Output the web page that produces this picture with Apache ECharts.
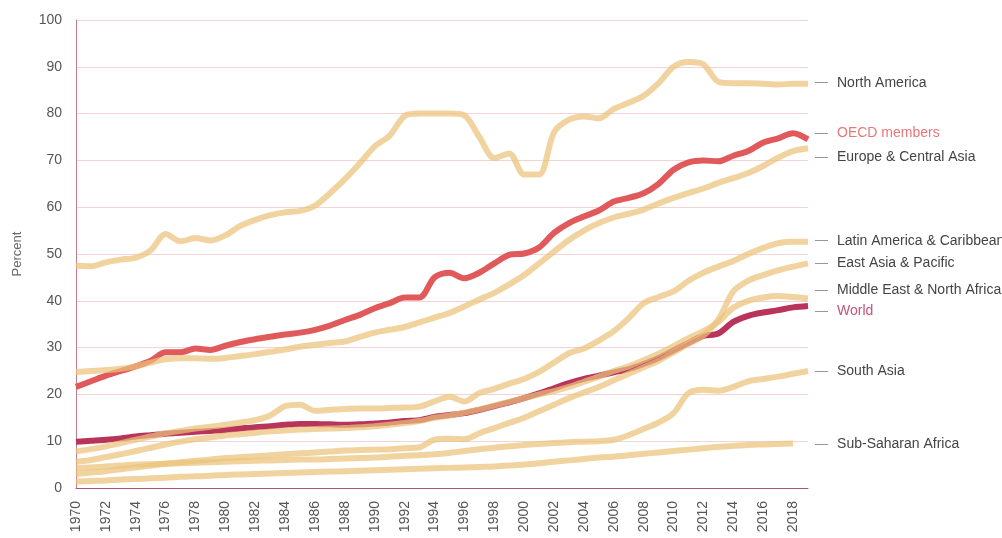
<!DOCTYPE html>
<html>
<head>
<meta charset="utf-8">
<script src="https://cdn.jsdelivr.net/npm/echarts@6/dist/echarts.min.js"></script>
<style>
html,body{margin:0;padding:0;background:#fff;}
#chart{width:1002px;height:538px;}
</style>
</head>
<body>
<div id="chart"></div>
<script>
var years = ["1970","1971","1972","1973","1974","1975","1976","1977","1978","1979",
"1980","1981","1982","1983","1984","1985","1986","1987","1988","1989",
"1990","1991","1992","1993","1994","1995","1996","1997","1998","1999",
"2000","2001","2002","2003","2004","2005","2006","2007","2008","2009",
"2010","2011","2012","2013","2014","2015","2016","2017","2018","2019"];

var northAmerica = [47.5,47.4,48.2,48.8,49.2,50.8,54.3,52.7,53.4,52.9,
54.0,56.0,57.3,58.3,58.9,59.2,60.3,63.0,66.0,69.4,
73.0,75.3,79.5,80.0,80.0,80.0,79.6,75.0,70.5,71.5,
67.0,67.0,76.0,78.7,79.4,79.0,81.0,82.3,83.8,86.5,
90.0,91.0,90.5,86.8,86.5,86.5,86.4,86.2,86.4,86.4];

var oecd = [21.6,22.8,24.0,25.0,26.0,27.2,29.0,29.0,29.8,29.5,
30.4,31.2,31.8,32.3,32.8,33.2,33.8,34.7,35.9,37.0,
38.4,39.5,40.7,40.7,45.0,46.0,44.8,46.0,48.0,49.8,
50.1,51.4,54.5,56.6,58.0,59.3,61.2,62.0,63.0,65.0,
68.0,69.6,70.0,69.8,71.0,72.0,73.8,74.7,75.8,74.5];

var europeCentralAsia = [24.8,25.0,25.2,25.5,26.0,26.8,27.5,27.7,27.7,27.6,
27.8,28.2,28.6,29.1,29.6,30.2,30.6,31.0,31.3,32.3,
33.2,33.8,34.4,35.4,36.4,37.4,38.8,40.3,41.7,43.5,
45.5,48.0,50.5,53.0,55.0,56.6,57.8,58.6,59.5,60.8,
62.0,63.0,64.0,65.2,66.2,67.3,68.8,70.6,72.0,72.6];

var latinAmerica = [7.8,8.3,8.9,9.6,10.3,11.0,11.7,12.2,12.7,13.1,
13.5,14.0,14.5,15.5,17.5,17.8,16.5,16.7,16.9,17.0,
17.0,17.1,17.2,17.4,18.5,19.5,18.5,20.3,21.2,22.3,
23.3,24.8,26.8,28.8,29.8,31.5,33.5,36.3,39.5,40.8,
42.0,44.3,46.0,47.3,48.5,50.0,51.3,52.3,52.6,52.6];

var eastAsiaPacific = [3.0,3.3,3.6,4.0,4.4,4.8,5.2,5.5,5.8,6.1,
6.4,6.6,6.8,7.0,7.2,7.4,7.6,7.8,8.0,8.1,
8.2,8.3,8.5,8.7,10.3,10.5,10.4,11.7,12.8,13.9,
15.0,16.4,17.8,19.2,20.4,21.6,23.0,24.4,25.8,27.2,
29.0,30.8,32.6,36.0,42.0,44.3,45.5,46.5,47.3,48.0];

var middleEastNorthAfrica = [5.6,6.0,6.6,7.2,7.9,8.6,9.3,9.9,10.4,10.8,
11.2,11.5,11.8,12.1,12.3,12.5,12.6,12.7,12.8,13.0,
13.2,13.5,13.9,14.3,15.0,15.5,16.1,16.8,17.6,18.4,
19.2,20.0,20.7,21.6,22.7,23.8,25.0,26.0,27.3,28.7,
30.3,32.0,33.5,35.5,38.5,40.0,40.7,41.0,40.8,40.5];

var world = [9.9,10.1,10.3,10.6,11.0,11.3,11.6,11.8,12.0,12.2,
12.4,12.7,13.0,13.2,13.5,13.7,13.7,13.6,13.5,13.6,
13.8,14.0,14.3,14.5,15.2,15.6,16.0,16.7,17.5,18.3,
19.2,20.2,21.3,22.4,23.3,24.0,24.7,25.4,26.5,27.8,
29.4,31.0,32.5,33.0,35.5,36.8,37.5,38.0,38.6,38.9];

var southAsia = [4.2,4.4,4.6,4.8,5.0,5.1,5.2,5.3,5.4,5.5,
5.6,5.7,5.8,5.9,6.0,6.1,6.1,6.2,6.3,6.4,
6.5,6.7,6.9,7.0,7.2,7.5,7.9,8.3,8.6,8.9,
9.2,9.4,9.6,9.8,9.9,10.0,10.3,11.3,12.6,14.0,
16.0,20.3,21.0,20.8,21.6,22.8,23.3,23.8,24.4,25.0];

var subSaharanAfrica = [1.4,1.5,1.6,1.8,1.9,2.1,2.2,2.4,2.5,2.6,
2.8,2.9,3.0,3.1,3.2,3.3,3.4,3.5,3.6,3.7,
3.8,3.9,4.0,4.1,4.2,4.3,4.4,4.5,4.6,4.8,
5.0,5.3,5.6,5.9,6.2,6.5,6.7,7.0,7.3,7.6,
7.9,8.2,8.5,8.8,9.0,9.2,9.3,9.4,9.5,null];

var yTicks = [0,10,20,30,40,50,60,70,80,90,100];

var TAN = '#ecc27a';
var FONT = 'Liberation Sans';

function lbl(name, color, dy, dx) {
  return {
    show: true,
    offset: [dx || 0, dy || 0],
    distance: 7,
    formatter: '{d|—}{t|' + name + '}',
    rich: {
      d: {color: '#8a8a8a', fontSize: 13, fontFamily: FONT, padding: [0, 9, 0, 0]},
      t: {color: color, fontSize: 14, fontFamily: FONT}
    }
  };
}

function tanSeries(name, data, dy, dx) {
  return {
    name: name, type: 'line', data: data, smooth: 0.3, showSymbol: false, symbol: 'none',
    lineStyle: {color: TAN, width: 6, opacity: 0.72},
    itemStyle: {color: TAN},
    endLabel: lbl(name, '#444', dy, dx),
    z: 3
  };
}

var chart = echarts.init(document.getElementById('chart'), null, {renderer: 'canvas'});
chart.setOption({
  animation: false,
  backgroundColor: '#fff',
  grid: {left: 76, right: 194, top: 20, bottom: 50, containLabel: false},
  xAxis: {
    type: 'category', data: years, boundaryGap: false,
    axisLine: {lineStyle: {color: '#a8557a', width: 1}},
    axisTick: {show: false},
    axisLabel: {interval: 1, rotate: 90, color: '#555', fontSize: 14, fontFamily: FONT, margin: 13},
    splitLine: {show: false}
  },
  yAxis: {
    type: 'value', min: 0, max: 100, interval: 10,
    name: 'Percent', nameLocation: 'middle', nameGap: 52, nameRotate: 90,
    nameTextStyle: {color: '#666', fontSize: 13, fontFamily: FONT},
    axisLine: {show: true, lineStyle: {color: '#c47a88', width: 1}},
    axisTick: {show: false},
    axisLabel: {color: '#555', fontSize: 14, fontFamily: FONT, margin: 14,
      formatter: function (v) { return yTicks.indexOf(v) >= 0 ? String(v) : ''; }},
    splitLine: {lineStyle: {color: '#f2d4d4', width: 1}}
  },
  series: [
    {
      name: 'OECD members', type: 'line', data: oecd, smooth: 0.3, showSymbol: false, symbol: 'none',
      lineStyle: {color: '#e05a5c', width: 6}, itemStyle: {color: '#e05a5c'},
      endLabel: lbl('OECD members', '#e8777b', -6), z: 2
    },
    {
      name: 'World', type: 'line', data: world, smooth: 0.3, showSymbol: false, symbol: 'none',
      lineStyle: {color: '#b8345a', width: 6}, itemStyle: {color: '#b8345a'},
      endLabel: lbl('World', '#c4527c', 5), z: 2
    },
    tanSeries('North America', northAmerica, -1),
    tanSeries('Europe & Central Asia', europeCentralAsia, 9),
    tanSeries('Latin America & Caribbean', latinAmerica, -1),
    tanSeries('East Asia & Pacific', eastAsiaPacific, 0),
    tanSeries('Middle East & North Africa', middleEastNorthAfrica, -8),
    tanSeries('South Asia', southAsia, 0),
    tanSeries('Sub-Saharan Africa', subSaharanAfrica, 1, 15)
  ]
});
</script>
</body>
</html>
